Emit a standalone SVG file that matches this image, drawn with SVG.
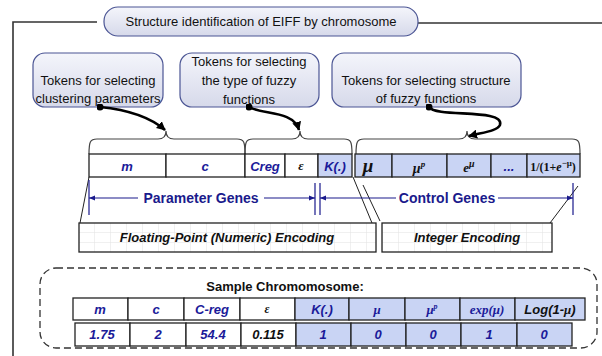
<svg xmlns="http://www.w3.org/2000/svg" width="602" height="356" viewBox="0 0 602 356">
<defs>
<linearGradient id="tok" x1="0" y1="0" x2="0" y2="1">
<stop offset="0" stop-color="#f4f5fb"/>
<stop offset="1" stop-color="#d6d9ea"/>
</linearGradient>
<pattern id="grid" width="16" height="10" patternUnits="userSpaceOnUse" x="79" y="223">
<rect width="16" height="10" fill="#fff"/>
<path d="M16,0 V10 M0,10 H16" stroke="#e2e2e2" stroke-width="1" fill="none"/>
</pattern>
<marker id="ah" viewBox="0 0 10 10" refX="9" refY="5" markerWidth="9" markerHeight="9" orient="auto-start-reverse" markerUnits="userSpaceOnUse">
<path d="M0,0 L10,5 L0,10 Z" fill="#000"/>
</marker>
<marker id="bh" viewBox="0 0 10 10" refX="10" refY="5" markerWidth="6" markerHeight="6" orient="auto-start-reverse" markerUnits="userSpaceOnUse">
<path d="M0,1 L10,5 L0,9 Z" fill="#1a1a8c"/>
</marker>
<marker id="dot" viewBox="0 0 10 10" refX="5" refY="5" markerWidth="7" markerHeight="7" markerUnits="userSpaceOnUse">
<circle cx="5" cy="5" r="5" fill="#000"/>
</marker>
</defs>
<style>
.tok{fill:url(#tok);stroke:#4b5594;stroke-width:1.2}
.t{font-family:"Liberation Sans",Arial,sans-serif;font-size:13px;fill:#111;text-anchor:middle}
.bi{font-family:"Liberation Sans",Arial,sans-serif;font-size:13px;font-weight:bold;font-style:italic;text-anchor:middle}
.blue{fill:#1a1a99}
.blk{fill:#111}
.sf{font-family:"Liberation Serif","Times New Roman",serif;font-weight:bold;text-anchor:middle;fill:#111}
.cell{stroke:#222;stroke-width:1.3}
.w{fill:#fff}
.lb{fill:#c9d4f4}
.brace{fill:none;stroke:#444;stroke-width:1.2}
.conn{fill:none;stroke:#000;stroke-width:2.6}
.thin{fill:none;stroke:#222;stroke-width:1}
.gl{stroke:#1a1a8c;stroke-width:1.2;fill:none}
.enc{fill:url(#grid);stroke:#222;stroke-width:1.3}
.frame{fill:none;stroke:#333;stroke-width:1.6}
</style>

<g id="frame">
<path class="frame" d="M97,22 H13 V356"/>
<path class="frame" d="M418,23 H602"/>
</g>

<g id="title">
<rect class="tok" x="104" y="7" width="314" height="29" rx="14"/>
<text class="t" x="261" y="26">Structure identification of EIFF by chromosome</text>
</g>

<g id="token1">
<rect class="tok" x="33" y="53" width="130" height="54" rx="12"/>
<text class="t" x="98" y="85">Tokens for selecting</text>
<text class="t" x="98" y="103">clustering parameters</text>
</g>
<g id="token2">
<rect class="tok" x="180" y="53" width="139" height="54" rx="12"/>
<text class="t" x="249" y="66">Tokens for selecting</text>
<text class="t" x="249" y="85">the type of fuzzy</text>
<text class="t" x="249" y="104">functions</text>
</g>
<g id="token3">
<rect class="tok" x="332" y="53" width="189" height="54" rx="12"/>
<text class="t" x="426" y="85">Tokens for selecting structure</text>
<text class="t" x="426" y="103">of fuzzy functions</text>
</g>

<g id="braces">
<path class="brace" d="M89,154 C89,142 90,139 97,139 L158,139 C163,139 166,137 166,131 C166,137 169,139 174,139 L237,139 C244,139 245,142 245,154"/>
<path class="brace" d="M245,154 C245,142 246,139 253,139 L292,139 C297,139 300,137 300,131 C300,137 303,139 308,139 L344,139 C351,139 352,142 352,154"/>
<path class="brace" d="M356,154 C356,142 357,139 364,139 L459,139 C464,139 467,137 467,131 C467,137 470,139 475,139 L572,139 C579,139 580,142 580,154"/>
</g>

<g id="chromosome">
<rect class="cell w" x="89" y="154" width="77" height="23"/>
<rect class="cell w" x="166" y="154" width="79" height="23"/>
<rect class="cell w" x="245" y="154" width="40" height="23"/>
<rect class="cell w" x="285" y="154" width="33" height="23"/>
<rect class="cell lb" x="318" y="154" width="34" height="23"/>
<rect class="cell lb" x="355" y="154" width="37" height="23"/>
<rect class="cell lb" x="392" y="154" width="55" height="23"/>
<rect class="cell lb" x="447" y="154" width="44" height="23"/>
<rect class="cell lb" x="491" y="154" width="36" height="23"/>
<rect class="cell lb" x="527" y="154" width="53" height="23"/>
<text class="bi blue" x="127" y="171">m</text>
<text class="bi blue" x="205" y="171">c</text>
<text class="bi blue" x="265" y="171">Creg</text>
<text class="sf" x="301" y="170" font-size="13" font-style="italic" font-weight="normal">ε</text>
<text class="bi blue" x="335" y="171">K(.)</text>
<text class="sf" x="368" y="172" font-size="19" font-style="italic">μ</text>
<text class="sf" x="419" y="173" font-size="14" font-style="italic">μ<tspan font-size="9" dy="-6">p</tspan></text>
<text class="sf" x="469" y="172" font-size="13" font-style="italic" font-weight="normal">e<tspan font-size="10" dy="-5" font-weight="bold">μ</tspan></text>
<text class="bi blue" x="509" y="171">...</text>
<text class="sf" x="553" y="171" font-size="12">1/(1+<tspan font-style="italic">e</tspan><tspan font-size="9" dy="-5">−μ</tspan><tspan dy="5">)</tspan></text>
</g>

<g id="connectors">
<path class="conn" d="M100,107 C130,110 150,117 165,130" marker-start="url(#dot)" marker-end="url(#ah)"/>
<path class="conn" d="M249,107 C262,115 293,110 299,130" marker-start="url(#dot)" marker-end="url(#ah)"/>
<path class="conn" d="M429,107 C436,118 505,108 500,125 C497,131 485,132 469,136" marker-start="url(#dot)" marker-end="url(#ah)"/>
<path class="thin" d="M89,177 L80,223"/>
<path class="thin" d="M353,177 L372,223"/>
<path class="thin" d="M363,185 L380,221"/>
<path class="thin" d="M550,223 L578,186"/>
</g>

<g id="param-genes">
<path class="gl" d="M89,180 V215 M315,183 V215"/>
<path class="gl" d="M89,198 H138" marker-start="url(#bh)"/>
<path class="gl" d="M264,198 H315" marker-end="url(#bh)"/>
<text x="201" y="203" font-family="'Liberation Sans',Arial,sans-serif" font-size="14" font-weight="bold" fill="#1a1a8c" text-anchor="middle">Parameter  Genes</text>
</g>
<g id="control-genes">
<path class="gl" d="M320,183 V215 M573,183 V215"/>
<path class="gl" d="M320,198 H396" marker-start="url(#bh)"/>
<path class="gl" d="M498,198 H573" marker-end="url(#bh)"/>
<text x="447" y="203" font-family="'Liberation Sans',Arial,sans-serif" font-size="14" font-weight="bold" fill="#1a1a8c" text-anchor="middle">Control Genes</text>
</g>

<g id="float-enc">
<rect class="enc" x="79" y="223" width="297" height="29"/>
<text class="bi blk" x="227" y="242">Floating-Point (Numeric) Encoding</text>
</g>
<g id="int-enc">
<rect class="enc" x="382" y="223" width="170" height="29"/>
<text class="bi blk" x="467" y="242">Integer Encoding</text>
</g>

<g id="sample">
<rect x="40" y="268" width="557" height="80" rx="16" fill="none" stroke="#333" stroke-width="1.3" stroke-dasharray="7,4"/>
<text x="285" y="291" font-family="'Liberation Sans',Arial,sans-serif" font-size="13" font-weight="bold" fill="#111" text-anchor="middle">Sample Chromomosome:</text>
<rect class="cell w" x="73" y="298" width="55" height="22"/>
<rect class="cell w" x="128" y="298" width="56" height="22"/>
<rect class="cell w" x="184" y="298" width="56" height="22"/>
<rect class="cell w" x="240" y="298" width="55" height="22"/>
<rect class="cell lb" x="295" y="298" width="54" height="22"/>
<rect class="cell lb" x="349" y="298" width="56" height="22"/>
<rect class="cell lb" x="405" y="298" width="55" height="22"/>
<rect class="cell lb" x="460" y="298" width="55" height="22"/>
<rect class="cell lb" x="515" y="298" width="70" height="22"/>
<text class="bi blue" x="100" y="314">m</text>
<text class="bi blue" x="156" y="314">c</text>
<text class="bi blue" x="212" y="314">C-reg</text>
<text class="sf" x="267" y="313" font-size="12" font-style="italic" font-weight="normal">ε</text>
<text class="bi blue" x="322" y="314">K(.)</text>
<text class="sf" x="377" y="314" font-size="13" font-style="italic" fill="#1a1a99" style="fill:#1a1a99">μ</text>
<text class="sf" x="432" y="314" font-size="13" font-style="italic" style="fill:#1a1a99">μ<tspan font-size="8" dy="-5">p</tspan></text>
<text class="sf" x="487" y="314" font-size="13" font-style="italic" style="fill:#1a1a99">exp(μ)</text>
<text class="bi blk" x="550" y="314">Log(1-<tspan font-family="'Liberation Serif',serif">μ</tspan>)</text>
<rect class="cell w" x="75" y="323" width="55" height="23"/>
<rect class="cell w" x="130" y="323" width="56" height="23"/>
<rect class="cell w" x="186" y="323" width="55" height="23"/>
<rect class="cell w" x="241" y="323" width="55" height="23"/>
<rect class="cell lb" x="296" y="323" width="55" height="23"/>
<rect class="cell lb" x="351" y="323" width="55" height="23"/>
<rect class="cell lb" x="406" y="323" width="55" height="23"/>
<rect class="cell lb" x="461" y="323" width="56" height="23"/>
<rect class="cell lb" x="517" y="323" width="55" height="23"/>
<text class="bi blue" x="102" y="339">1.75</text>
<text class="bi blue" x="158" y="339">2</text>
<text class="bi blue" x="213" y="339">54.4</text>
<text class="bi blk" x="268" y="339">0.115</text>
<text class="bi blue" x="323" y="339">1</text>
<text class="bi blue" x="378" y="339">0</text>
<text class="bi blue" x="433" y="339">0</text>
<text class="bi blue" x="489" y="339">1</text>
<text class="bi blue" x="544" y="339">0</text>
</g>
</svg>
